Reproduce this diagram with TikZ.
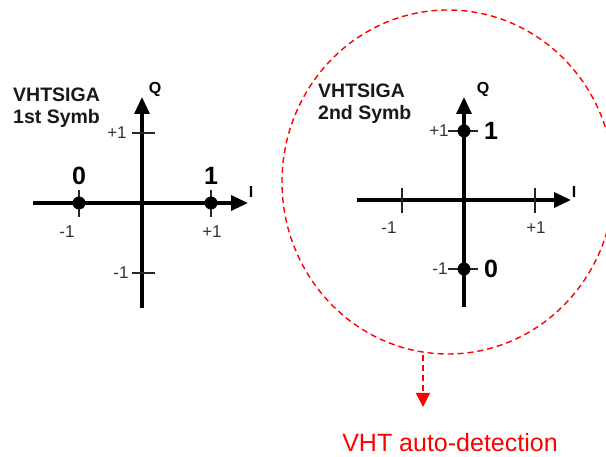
\documentclass[tikz,border=0pt]{standalone}
\usepackage{fontspec}
\setmainfont{Liberation Sans}
\usetikzlibrary{arrows.meta}
\begin{document}
\begin{tikzpicture}[x=1pt,y=-1pt,
  axis/.style={line width=3.3pt,-{Triangle[length=17pt,width=15pt]}},
  tick/.style={line width=1.3pt,black!85},
  dot/.style={circle,fill=black,inner sep=0pt,minimum size=13pt},
  ticklab/.style={font=\fontsize{17}{19}\selectfont,text=black!80,inner sep=0pt},
  bitlab/.style={font=\fontsize{25}{28}\selectfont\bfseries,inner sep=0pt},
  axlab/.style={font=\fontsize{16}{18}\selectfont\bfseries,inner sep=0pt},
  title/.style={font=\fontsize{19.5}{22}\selectfont\bfseries,align=left,anchor=west,inner sep=0pt,text=black!90},
  redline/.style={red,line width=1.4pt,dash pattern=on 6pt off 4pt}]
\useasboundingbox (0,0) rectangle (606,457);
% ---------- left constellation ----------
\coordinate (L-il) at (33,203);
\coordinate (L-ir) at (248,203);
\coordinate (L-qb) at (142,308);
\coordinate (L-qt) at (142,97);
\draw[axis] (L-il) -- (L-ir);
\draw[axis] (L-qb) -- (L-qt);
\coordinate (L-t1a) at (79,190); \coordinate (L-t1b) at (79,217);
\coordinate (L-t2a) at (211,190); \coordinate (L-t2b) at (211,217);
\coordinate (L-t3a) at (132,133); \coordinate (L-t3b) at (155,133);
\coordinate (L-t4a) at (132,273); \coordinate (L-t4b) at (155,273);
\draw[tick] (L-t1a) -- (L-t1b);
\draw[tick] (L-t2a) -- (L-t2b);
\draw[tick] (L-t3a) -- (L-t3b);
\draw[tick] (L-t4a) -- (L-t4b);
\node[dot] (L-d0) at (79,203) {};
\node[dot] (L-d1) at (211,203) {};
\node[bitlab] (L-b0) at (79,176) {0};
\node[bitlab] (L-b1) at (211,176) {1};
\node[ticklab] (L-m1) at (67,232) {-1};
\node[ticklab] (L-p1) at (212,232) {+1};
\node[ticklab] (L-qp) at (117,133) {+1};
\node[ticklab] (L-qm) at (121,273) {-1};
\node[axlab] (L-Q) at (155,89) {Q};
\node[axlab] (L-I) at (251,192) {I};
\node[title] (L-title) at (13,108) {VHTSIGA\\1st Symb};
% ---------- right constellation ----------
\coordinate (R-il) at (357,200);
\coordinate (R-ir) at (571,200);
\coordinate (R-qb) at (464,307);
\coordinate (R-qt) at (464,97);
\draw[axis] (R-il) -- (R-ir);
\draw[axis] (R-qb) -- (R-qt);
\coordinate (R-t1a) at (402,188); \coordinate (R-t1b) at (402,213);
\coordinate (R-t2a) at (535,188); \coordinate (R-t2b) at (535,213);
\coordinate (R-t3a) at (448,131); \coordinate (R-t3b) at (478,131);
\coordinate (R-t4a) at (448,269); \coordinate (R-t4b) at (478,269);
\draw[tick] (R-t1a) -- (R-t1b);
\draw[tick] (R-t2a) -- (R-t2b);
\draw[tick] (R-t3a) -- (R-t3b);
\draw[tick] (R-t4a) -- (R-t4b);
\node[dot] (R-d1) at (464,131) {};
\node[dot] (R-d0) at (464,269) {};
\node[bitlab] (R-b1) at (491,131) {1};
\node[bitlab] (R-b0) at (491,269) {0};
\node[ticklab] (R-qp) at (439,131) {+1};
\node[ticklab] (R-qm) at (440,269) {-1};
\node[ticklab] (R-m1) at (389,228) {-1};
\node[ticklab] (R-p1) at (536,228) {+1};
\node[axlab] (R-Q) at (483,89) {Q};
\node[axlab] (R-I) at (574,192) {I};
\node[title] (R-title) at (318,104) {VHTSIGA\\2nd Symb};
% ---------- red highlight ----------
\begin{scope}
\clip (0,0) rectangle (606,457);
\draw[redline] (448,182) ellipse [x radius=166, y radius=172];
\end{scope}
\coordinate (ell-b) at (423,355);
\node[text=red,font=\fontsize{25}{28}\selectfont,inner sep=0pt] (auto) at (450,443) {VHT auto-detection};
\coordinate (arr-tip) at (423,407);
\draw[redline,-{Triangle[length=14pt,width=14pt]}] (ell-b) -- (arr-tip);
\end{tikzpicture}
\end{document}
